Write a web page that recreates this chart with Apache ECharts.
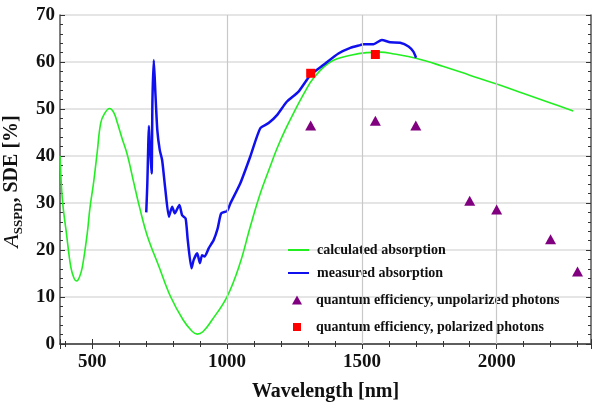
<!DOCTYPE html>
<html>
<head>
<meta charset="utf-8"/>
<style>
  html,body { margin:0; padding:0; background:#fff; }
</style>
</head>
<body>
<div id="chart" style="width:592px;height:403px"></div>
<script src="https://cdn.jsdelivr.net/npm/echarts@6/dist/echarts.min.js"></script>
<script type="text/javascript">

// calculated absorption (green curve), wavelength nm / absorption %
var calcWl  = [380, 389, 404, 420, 432, 442, 452, 463, 481, 491, 505, 518, 531, 545, 564, 580, 593, 610, 630, 653, 676, 704, 747, 790, 837, 870, 889, 910, 944, 1000, 1047, 1086, 1123, 1160, 1185, 1215, 1247, 1290, 1321, 1383, 1463, 1520, 1568, 1620, 1701, 1800, 1900, 2000, 2100, 2200, 2284];
var calcAbs = [40, 30.6, 23.5, 16.4, 14.0, 13.4, 14.2, 16.4, 23.5, 28.9, 34.5, 40.8, 47, 49.0, 50.1, 49.2, 47, 43.8, 40.2, 34.5, 28.9, 23.0, 16.5, 10.1, 5.1, 2.7, 2.1, 2.6, 5.1, 10.1, 17, 25, 32.0, 37.8, 41.6, 45.5, 49.2, 53.8, 56.6, 60, 61.5, 62, 62.1, 61.7, 60.8, 59.1, 57.2, 55.3, 53.3, 51.3, 49.6];

// measured absorption (blue curve)
var measWl  = [700, 704, 710, 713, 716, 720, 723, 728, 734, 741, 750, 759, 771, 784, 796, 806, 823, 833, 846, 854, 868, 876, 889, 899, 907, 916, 932, 950, 965, 978, 1000, 1012, 1049, 1086, 1123, 1154, 1185, 1222, 1265, 1309, 1358, 1413, 1457, 1494, 1506, 1543, 1574, 1605, 1642, 1673, 1691, 1701];
var measAbs = [28.0, 34.2, 46.4, 42.0, 39.9, 36.3, 51.9, 60.4, 53.3, 45.5, 41.3, 39.1, 32.8, 27.1, 29.2, 27.8, 29.6, 27.4, 26.7, 22.1, 16.1, 17.9, 19.3, 17.2, 18.9, 18.6, 20.4, 22.1, 24.6, 27.8, 28.3, 29.9, 34.2, 39.9, 45.9, 47.0, 48.7, 51.6, 53.7, 57.2, 59.4, 61.8, 63.0, 63.6, 63.8, 63.8, 64.7, 64.2, 64.1, 63.3, 62.2, 60.9];

// quantum efficiency, unpolarized photons
var qeUnpolWl  = [1310, 1550, 1700, 1900, 2000, 2200, 2300];
var qeUnpolVal = [46.5, 47.5, 46.5, 30.5, 28.6, 22.3, 15.4];

// quantum efficiency, polarized photons
var qePolWl  = [1310, 1550];
var qePolVal = [57.6, 61.6];

// vertical grid lines
var vGrid = [1000, 1500, 2000];

var names = ['calculated absorption', 'measured absorption',
             'quantum efficiency, unpolarized photons', 'quantum efficiency, polarized photons'];

function pairs(xs, ys) {
    var out = [];
    for (var i = 0; i < xs.length; i++) out.push([xs[i], ys[i]]);
    return out;
}

var serif = 'Liberation Serif';
var axisColor = '#555';

function mkLegend(item, left, top, w, h, gap, hideSymbol) {
    var lg = {
        data: [item],
        left: left, top: top, padding: 0,
        itemWidth: w, itemHeight: h,
        textStyle: { fontFamily: serif, fontWeight: 'bold', fontSize: 14, color: '#111', padding: [0, 0, 0, gap] },
        selectedMode: false
    };
    if (hideSymbol) lg.itemStyle = { opacity: 0 };
    return lg;
}

var chart = echarts.init(document.getElementById('chart'));

var option = {
    animation: false,
    grid: { left: 60, right: 1, top: 15, bottom: 59, outerBoundsMode: 'none' },
    legend: [
        mkLegend(names[0], 287, 243, 21, 14, 3, true),
        mkLegend(names[1], 287, 266, 21, 14, 3, true),
        mkLegend({ name: names[2], icon: 'triangle' }, 292, 293, 10, 9, 9, false),
        mkLegend({ name: names[3], icon: 'rect' }, 293, 320, 8, 8, 10, false)
    ],
    xAxis: [{
        type: 'value', min: 380, max: 2350, splitNumber: 4,
        name: 'Wavelength [nm]', nameLocation: 'middle', nameGap: 38,
        nameTextStyle: { fontFamily: serif, fontWeight: 'bold', fontSize: 20, color: '#111' },
        axisLine: { lineStyle: { color: axisColor, width: 1.5 } },
        axisTick: { inside: true, length: 5, lineStyle: { color: '#333' } },
        minorTick: { show: true, splitNumber: 5, length: 3, lineStyle: { color: '#333' } },
        splitLine: { show: false },
        axisLabel: {
            margin: 9, fontFamily: serif, fontWeight: 'bold', fontSize: 19, color: '#111',
            formatter: function (v) { return v % 500 === 0 ? v : ''; }
        }
    }, {
        type: 'value', min: 380, max: 2350, splitNumber: 4, position: 'top',
        axisLine: { show: true, lineStyle: { color: axisColor, width: 1.5 } },
        axisTick: { inside: true, length: 5, lineStyle: { color: '#333' } },
        minorTick: { show: true, splitNumber: 5, length: 3, lineStyle: { color: '#333' } },
        splitLine: { show: false },
        axisLabel: { show: false }
    }],
    yAxis: [{
        type: 'value', min: 0, max: 70, interval: 10,
        name: '{a|A}{s|SSPD}{n|, SDE [%]}',
        nameLocation: 'middle', nameGap: 29, nameRotate: 90,
        nameTextStyle: {
            fontFamily: serif, fontWeight: 'bold', fontSize: 20, color: '#111',
            padding: [0, 4, 0, 0],
            rich: {
                a: { fontFamily: serif, fontStyle: 'italic', fontWeight: 'normal', fontSize: 22, color: '#111', lineHeight: 26 },
                s: { fontFamily: serif, fontWeight: 'bold', fontSize: 13, color: '#111', verticalAlign: 'bottom', lineHeight: 14 },
                n: { fontFamily: serif, fontWeight: 'bold', fontSize: 20, color: '#111', lineHeight: 26 }
            }
        },
        axisLine: { show: true, lineStyle: { color: axisColor, width: 1.5 } },
        axisTick: { inside: true, length: 5, lineStyle: { color: '#333' } },
        minorTick: { show: true, splitNumber: 5, length: 3, lineStyle: { color: '#333' } },
        splitLine: { show: true, lineStyle: { color: '#dcdcdc', width: 1.5 } },
        axisLabel: { margin: 5, fontFamily: serif, fontWeight: 'bold', fontSize: 19, color: '#111' }
    }, {
        type: 'value', min: 0, max: 70, interval: 10, position: 'right',
        axisLine: { show: true, lineStyle: { color: axisColor, width: 1.5 } },
        axisTick: { inside: true, length: 5, lineStyle: { color: '#333' } },
        minorTick: { show: true, splitNumber: 5, length: 3, lineStyle: { color: '#333' } },
        splitLine: { show: false },
        axisLabel: { show: false }
    }],
    series: [
        {
            name: 'grid', type: 'line', data: [], z: 1, silent: true,
            markLine: {
                silent: true, symbol: 'none', label: { show: false },
                lineStyle: { color: '#c8c8c8', width: 1.2, type: 'solid' },
                data: vGrid.map(function (v) { return { xAxis: v }; })
            }
        },
        {
            name: names[0], type: 'line', data: pairs(calcWl, calcAbs),
            smooth: 0.4, showSymbol: false, symbol: 'none', z: 3,
            lineStyle: { color: '#22ee22', width: 1.6 }, itemStyle: { color: '#22ee22' }
        },
        {
            name: names[1], type: 'line', data: pairs(measWl, measAbs),
            smooth: 0.2, showSymbol: false, symbol: 'none', z: 4,
            lineStyle: { color: '#1010ee', width: 2.5 }, itemStyle: { color: '#1010ee' }
        },
        {
            name: names[2], type: 'scatter', data: pairs(qeUnpolWl, qeUnpolVal),
            symbol: 'triangle', symbolSize: [11, 10], z: 5,
            itemStyle: { color: '#800080', opacity: 1 }
        },
        {
            name: names[3], type: 'scatter', data: pairs(qePolWl, qePolVal),
            symbol: 'rect', symbolSize: 9, z: 5,
            itemStyle: { color: '#ff0000', opacity: 1 }
        }
    ]
};

chart.setOption(option);
</script>
</body>
</html>
